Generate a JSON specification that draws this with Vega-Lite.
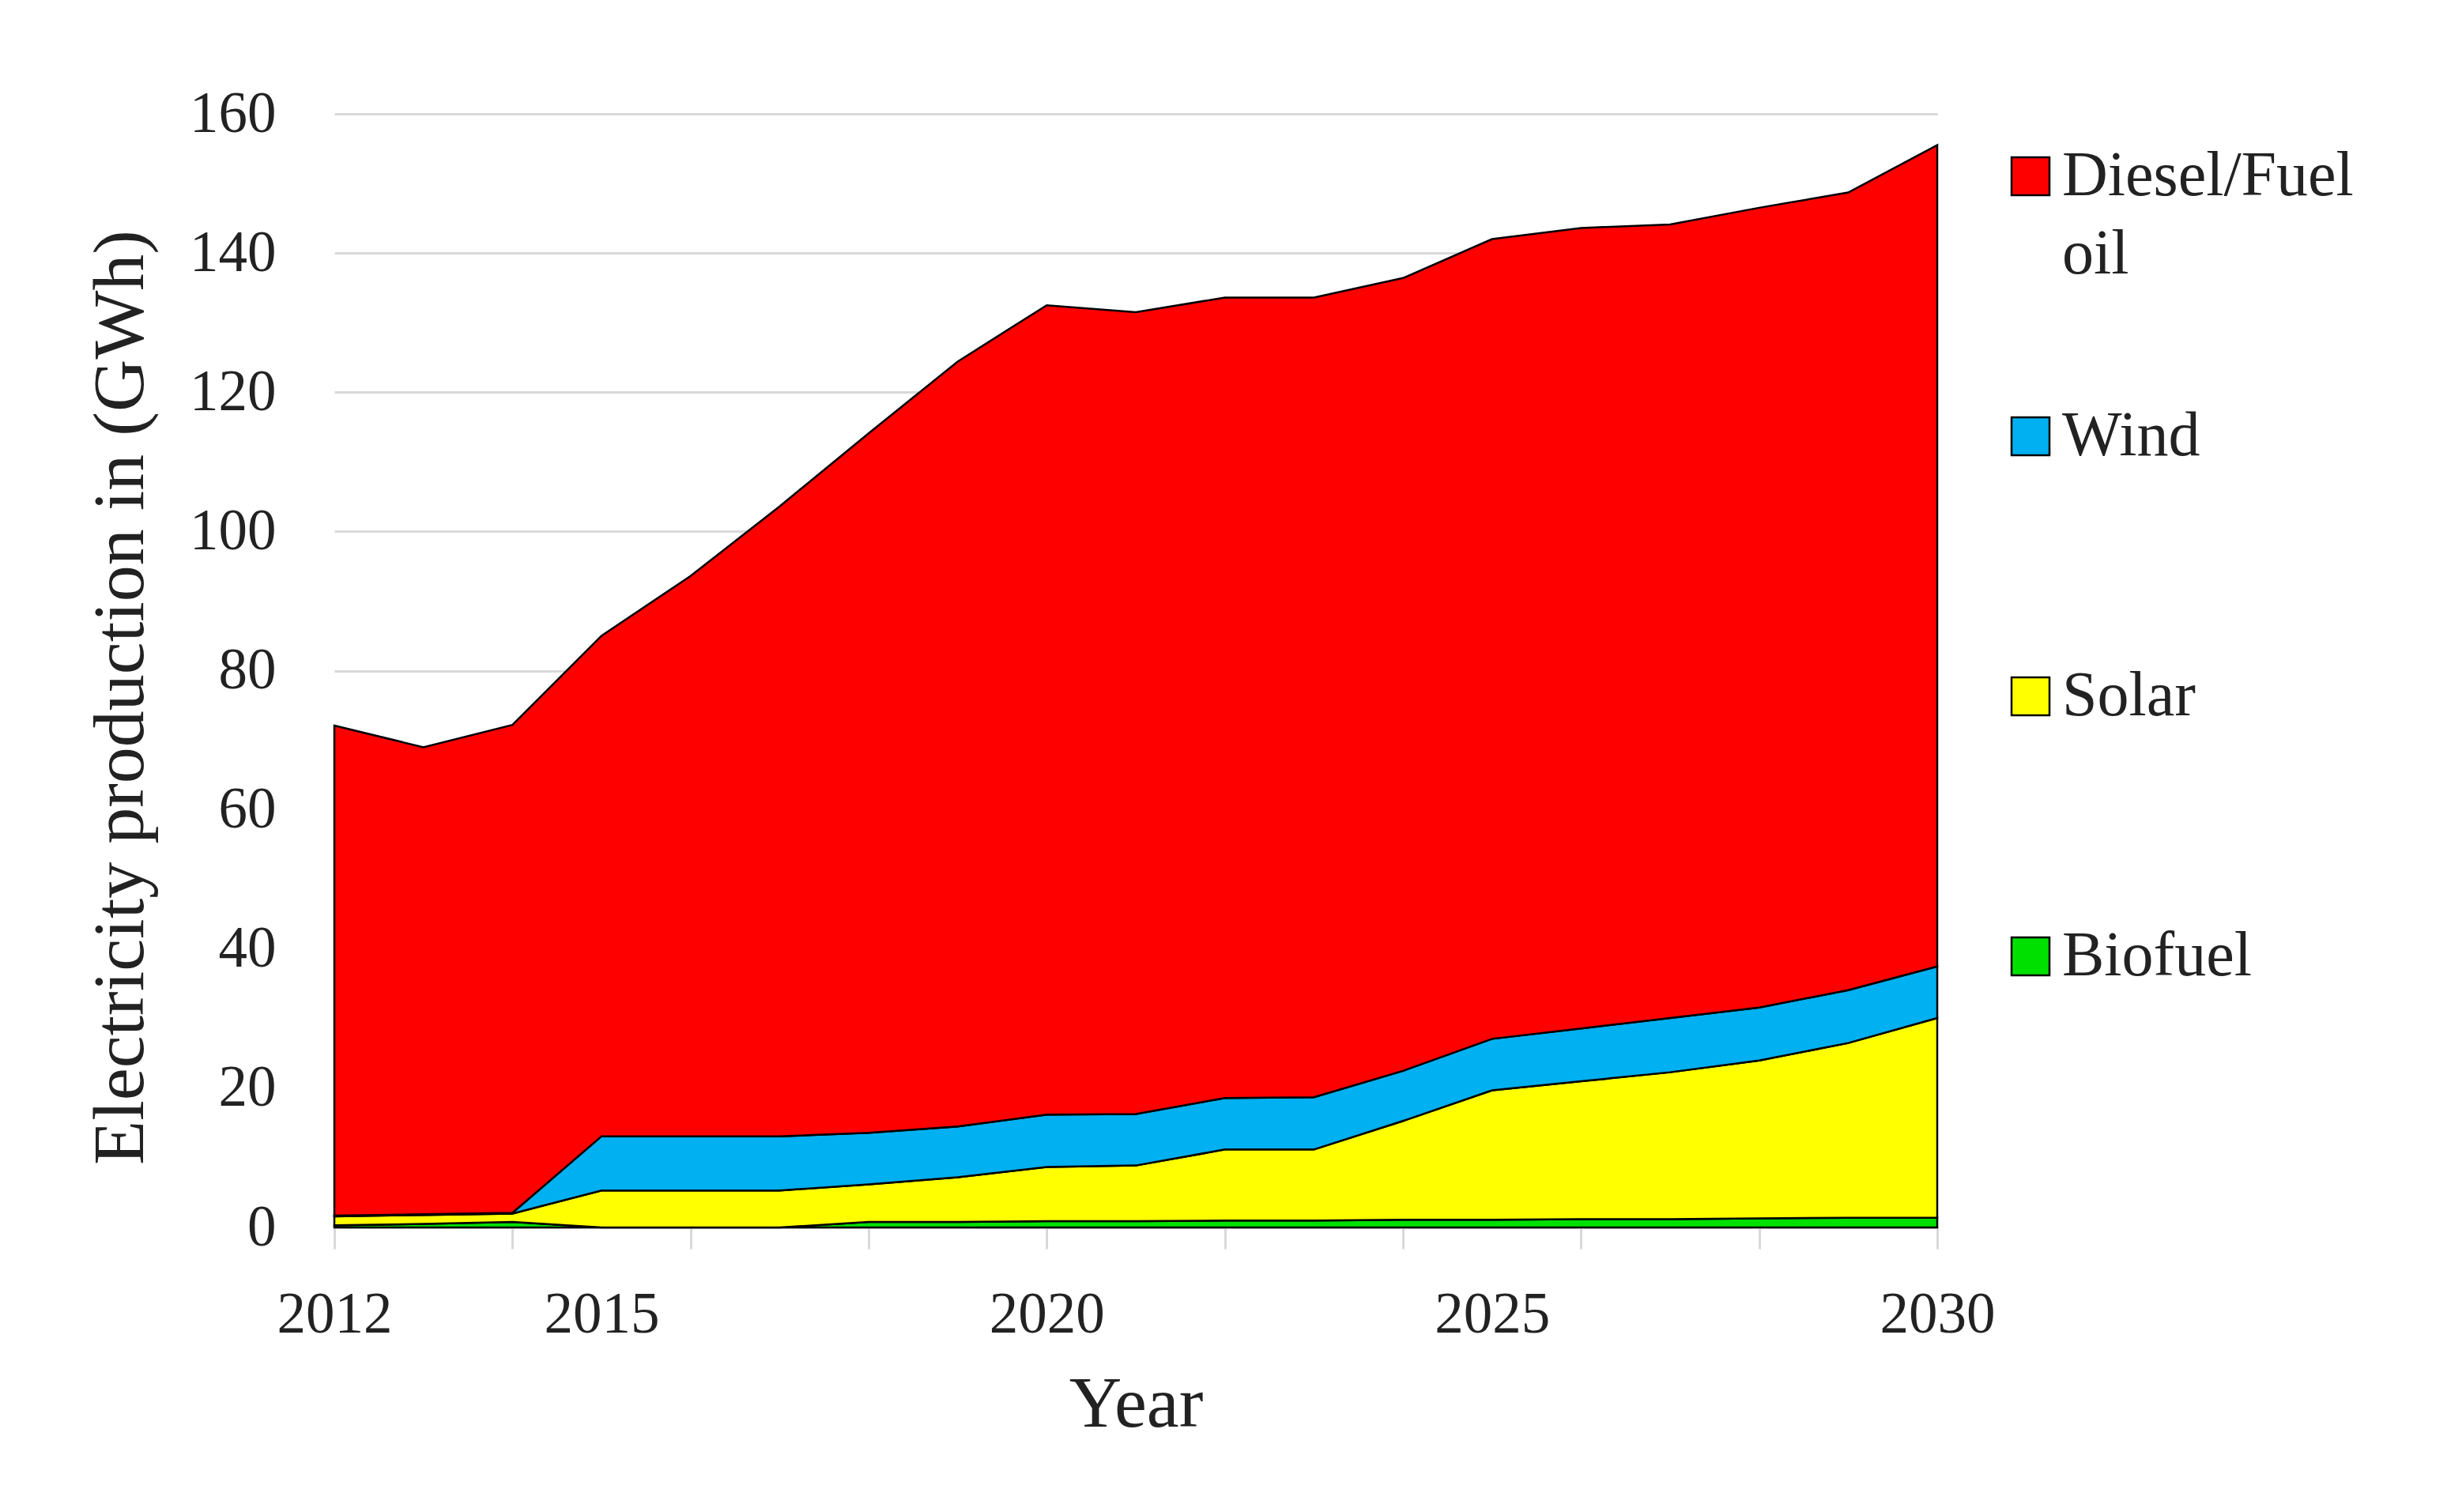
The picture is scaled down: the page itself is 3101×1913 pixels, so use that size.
{
  "$schema": "https://vega.github.io/schema/vega-lite/v6.json",
  "width": 2028,
  "height": 1409,
  "autosize": {"type": "none"},
  "padding": {"left": 423, "top": 144, "right": 650, "bottom": 360},
  "background": "white",
  "config": {
    "view": {"stroke": null},
    "font": "Liberation Serif",
    "style": {"guide-label": {"lineHeight": 99}},
    "axis": {"labelColor": "#222222", "titleColor": "#222222", "labelFont": "Liberation Serif", "titleFont": "Liberation Serif"},
    "legend": {"labelColor": "#222222", "labelFont": "Liberation Serif"}
  },
  "data": {
    "values": [
      {"year": 2012, "Biofuel": 0.3, "Solar": 1.3, "Wind": 0.1, "Diesel/Fuel oil": 70.4},
      {"year": 2013, "Biofuel": 0.5, "Solar": 1.3, "Wind": 0.1, "Diesel/Fuel oil": 67.1},
      {"year": 2014, "Biofuel": 0.8, "Solar": 1.2, "Wind": 0.1, "Diesel/Fuel oil": 70.1},
      {"year": 2015, "Biofuel": 0.0, "Solar": 5.3, "Wind": 7.8, "Diesel/Fuel oil": 71.9},
      {"year": 2016, "Biofuel": 0.0, "Solar": 5.3, "Wind": 7.8, "Diesel/Fuel oil": 80.5},
      {"year": 2017, "Biofuel": 0.0, "Solar": 5.3, "Wind": 7.8, "Diesel/Fuel oil": 90.5},
      {"year": 2018, "Biofuel": 0.8, "Solar": 5.4, "Wind": 7.4, "Diesel/Fuel oil": 100.5},
      {"year": 2019, "Biofuel": 0.8, "Solar": 6.4, "Wind": 7.3, "Diesel/Fuel oil": 109.9},
      {"year": 2020, "Biofuel": 0.9, "Solar": 7.8, "Wind": 7.5, "Diesel/Fuel oil": 116.3},
      {"year": 2021, "Biofuel": 0.9, "Solar": 8.0, "Wind": 7.4, "Diesel/Fuel oil": 115.2},
      {"year": 2022, "Biofuel": 1.0, "Solar": 10.2, "Wind": 7.4, "Diesel/Fuel oil": 115.0},
      {"year": 2023, "Biofuel": 1.0, "Solar": 10.2, "Wind": 7.5, "Diesel/Fuel oil": 114.9},
      {"year": 2024, "Biofuel": 1.1, "Solar": 14.2, "Wind": 7.2, "Diesel/Fuel oil": 113.9},
      {"year": 2025, "Biofuel": 1.1, "Solar": 18.6, "Wind": 7.4, "Diesel/Fuel oil": 114.9},
      {"year": 2026, "Biofuel": 1.2, "Solar": 19.8, "Wind": 7.6, "Diesel/Fuel oil": 115.0},
      {"year": 2027, "Biofuel": 1.2, "Solar": 21.1, "Wind": 7.8, "Diesel/Fuel oil": 114.0},
      {"year": 2028, "Biofuel": 1.3, "Solar": 22.7, "Wind": 7.6, "Diesel/Fuel oil": 114.9},
      {"year": 2029, "Biofuel": 1.4, "Solar": 25.1, "Wind": 7.6, "Diesel/Fuel oil": 114.6},
      {"year": 2030, "Biofuel": 1.4, "Solar": 28.7, "Wind": 7.4, "Diesel/Fuel oil": 118.0}
    ]
  },
  "transform": [
    {"fold": ["Biofuel", "Solar", "Wind", "Diesel/Fuel oil"], "as": ["source", "value"]},
    {"calculate": "indexof(['Biofuel','Solar','Wind','Diesel/Fuel oil'], datum.source)", "as": "stackOrder"}
  ],
  "layer": [
    {
      "mark": {"type": "area", "stroke": "black", "strokeWidth": 2.5, "opacity": 1, "strokeJoin": "miter"},
      "encoding": {
        "x": {
          "field": "year", "type": "quantitative",
          "scale": {"domain": [2012, 2030], "nice": false, "zero": false},
          "axis": {
            "orient": "bottom",
            "values": [2012, 2015, 2020, 2025, 2030], "format": "d",
            "ticks": false, "grid": false,
            "domain": true, "domainColor": "#d9d9d9", "domainWidth": 3,
            "labelFontSize": 73, "labelPadding": 74, "labelFlush": false,
            "title": "Year", "titleFontSize": 92, "titleFontWeight": "normal", "titlePadding": 31
          }
        },
        "y": {
          "field": "value", "type": "quantitative", "stack": "zero",
          "scale": {"domain": [0, 160], "nice": false},
          "axis": {
            "values": [0, 20, 40, 60, 80, 100, 120, 140, 160],
            "title": "Electricity production in (GWh)", "titleFontSize": 92, "titleFontWeight": "normal", "titlePadding": 40, "titleY": 738,
            "grid": true, "gridColor": "#d9d9d9", "gridWidth": 3,
            "domain": false, "ticks": false,
            "labelFontSize": 73, "labelPadding": 74
          }
        },
        "color": {
          "field": "source", "type": "nominal",
          "scale": {"domain": ["Diesel/Fuel oil", "Wind", "Solar", "Biofuel"], "range": ["#FF0000", "#00B0F0", "#FFFF00", "#00E000"]},
          "legend": {
            "title": null, "orient": "none", "legendX": 2106, "legendY": 39, "padding": 0,
            "gridAlign": "all",
            "symbolType": "square", "symbolSize": 2304, "symbolStrokeColor": "black", "symbolStrokeWidth": 2.5, "symbolOpacity": 1,
            "labelFontSize": 80, "labelOffset": 0, "labelLimit": 600, "rowPadding": 150,
            "labelExpr": "datum.label == 'Diesel/Fuel oil' ? ['Diesel/Fuel', 'oil'] : datum.label"
          }
        },
        "order": {"field": "stackOrder", "type": "quantitative", "sort": "ascending"}
      }
    },
    {
      "mark": {"type": "rule", "opacity": 0},
      "encoding": {
        "x": {
          "field": "year", "type": "quantitative",
          "axis": {
            "orient": "bottom",
            "values": [2012, 2014, 2016, 2018, 2020, 2022, 2024, 2026, 2028, 2030],
            "labels": false, "ticks": true, "tickSize": 27, "tickColor": "#d9d9d9", "tickWidth": 3,
            "domain": false, "grid": false, "title": null
          }
        }
      }
    }
  ],
  "resolve": {"axis": {"x": "independent"}}
}
